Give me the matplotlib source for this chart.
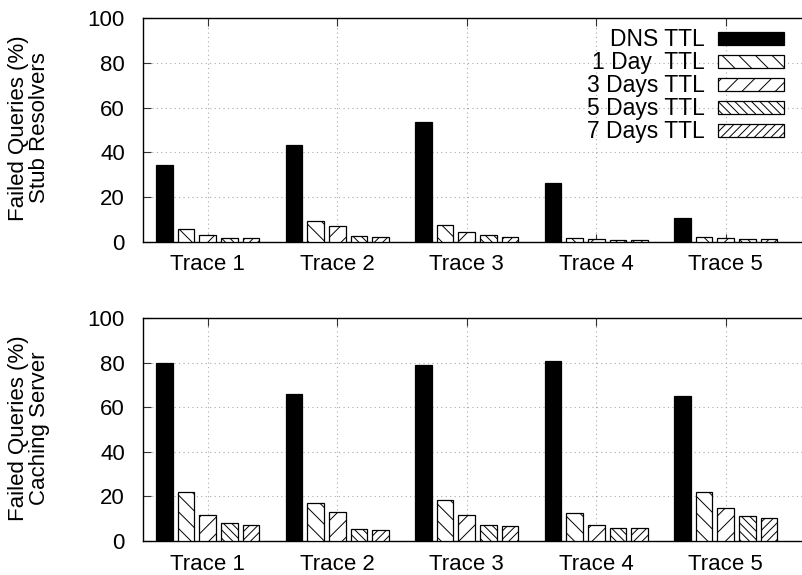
import matplotlib.pyplot as plt
import numpy as np

# data (percent of failed queries)
traces = ['Trace 1', 'Trace 2', 'Trace 3', 'Trace 4', 'Trace 5']
series = ['DNS TTL', '1 Day  TTL', '3 Days TTL', '5 Days TTL', '7 Days TTL']

stub_dns = [34.4, 43.4, 53.4, 26.5, 10.6]
stub_1day = [5.7, 9.4, 7.4, 1.9, 2.4]
stub_3day = [3.0, 7.0, 4.6, 1.2, 1.8]
stub_5day = [1.9, 2.8, 3.0, 0.9, 1.2]
stub_7day = [1.8, 2.4, 2.4, 0.8, 1.2]

cache_dns = [80.0, 65.7, 78.8, 80.6, 65.0]
cache_1day = [21.9, 16.9, 18.2, 12.5, 21.9]
cache_3day = [11.5, 13.0, 11.6, 7.0, 14.6]
cache_5day = [7.9, 5.4, 7.3, 6.0, 11.3]
cache_7day = [7.2, 4.8, 6.6, 5.7, 10.3]

plt.rcParams['font.family'] = ['Liberation Sans', 'DejaVu Sans']
plt.rcParams['hatch.linewidth'] = 0.7

fill = ['black', 'white', 'white', 'white', 'white']
hatches = [None, '\\\\', '//', '\\\\\\\\', '////']

fig = plt.figure(figsize=(8.03, 5.75), dpi=100)
W, H = 803.0, 575.0
x_left = 143
x_right = 815   # axes run past the right edge of the picture
ax_top = fig.add_axes([x_left / W, 1 - 242 / H, (x_right - x_left) / W, 224 / H])
ax_bot = fig.add_axes([x_left / W, 1 - 541 / H, (x_right - x_left) / W, 223 / H])

ind = np.arange(1, 6)
width = 0.128

panels = [
    (ax_top, [stub_dns, stub_1day, stub_3day, stub_5day, stub_7day], 'Failed Queries (%)\nStub Resolvers', 128),
    (ax_bot, [cache_dns, cache_1day, cache_3day, cache_5day, cache_7day], 'Failed Queries (%)\nCaching Server', 428),
]

for ax, vals, ylab, yc in panels:
    for j in range(5):
        ax.bar(ind + (j - 2) / 6.0, vals[j], width, color=fill[j], hatch=hatches[j],
               edgecolor='black', linewidth=0.9, zorder=3, label=series[j])
    ax.set_xlim(0.5, 0.5 + (x_right - x_left) / 129.5)
    ax.set_ylim(0, 100)
    ax.set_xticks(ind)
    ax.set_xticklabels(traces)
    ax.set_yticks([0, 20, 40, 60, 80, 100])
    ax.tick_params(axis='both', direction='in', length=6, width=0.8, labelsize=16,
                   top=True, right=False, color='#333333')
    ax.tick_params(axis='x', pad=9)
    ax.tick_params(axis='y', pad=13)
    ax.set_axisbelow(True)
    ax.grid(color='#aaaaaa', linestyle=(0, (1, 3)), linewidth=0.8, zorder=0)
    for s in ax.spines.values():
        s.set_linewidth(1.0)
    fig.text(29 / W, 1 - yc / H, ylab, rotation=90, ha='center', va='center',
             multialignment='center', fontsize=16, linespacing=0.95)

leg = ax_top.legend(loc='upper right', bbox_to_anchor=((794 - x_left) / (x_right - x_left), 1.0),
                    markerfirst=False, frameon=False, fontsize=16.5, handlelength=2.85,
                    handleheight=0.52, labelspacing=0.0, handletextpad=0.6,
                    borderpad=0.25, borderaxespad=0.2)

plt.savefig('out.png', dpi=100)
